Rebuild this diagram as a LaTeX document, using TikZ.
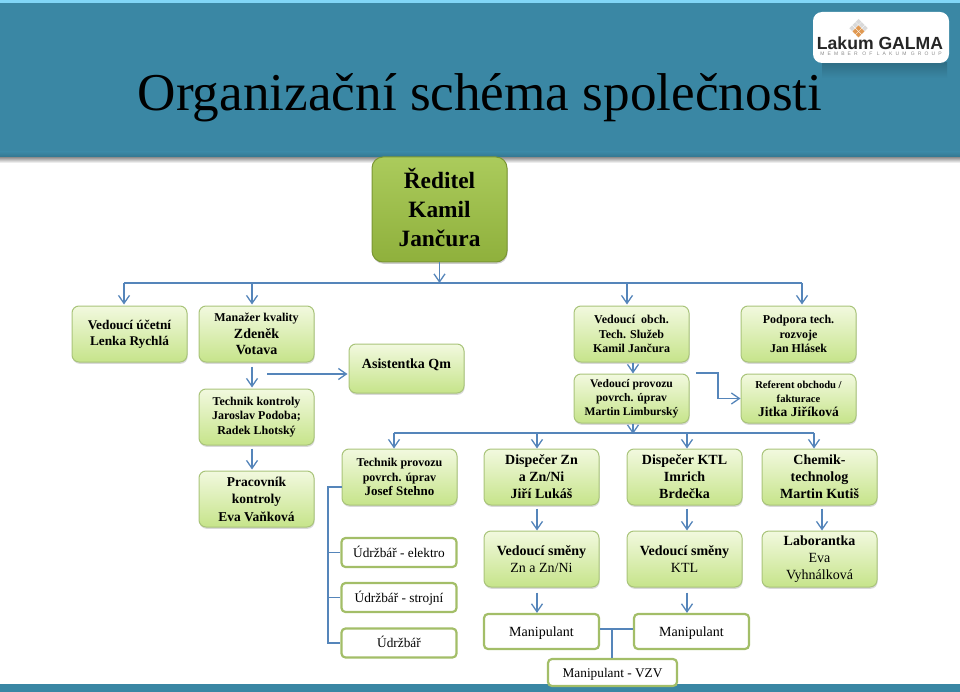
\documentclass[tikz,border=0pt]{standalone}
\usepackage{fontspec}
\setmainfont{Liberation Serif}
\newfontfamily\logofont{Liberation Sans}
\newfontfamily\logosubfont[LetterSpace=62]{Liberation Sans}
\usetikzlibrary{arrows.meta, shadows}
\definecolor{headblue}{HTML}{3A87A4}
\definecolor{linkblue}{HTML}{5585BA}
\definecolor{boxedge}{HTML}{A9C47A}
\definecolor{plainedge}{HTML}{A3BE68}
\definecolor{boxtop}{HTML}{F2F9DF}
\definecolor{boxbottom}{HTML}{C6E48A}
\definecolor{bosstop}{HTML}{ABCB5C}
\definecolor{bossbottom}{HTML}{8FB03C}
\tikzset{
  link/.style={
    linkblue,
    line width=1.3pt
  },
  arrowlink/.style={
    link,
    -{Straight Barb[length=8pt,width=11pt]}
  },
  greenbox/.style={
    draw=boxedge,
    line width=1pt,
    rounded corners=7pt,
    top color=boxtop,
    bottom color=boxbottom,
    drop shadow={shadow xshift=0.6pt,shadow yshift=-1.8pt,opacity=0.3},
    align=center,
    inner sep=0pt,
    minimum width=115pt,
    minimum height=56pt
  },
  plainbox/.style={
    draw=plainedge,
    line width=2.2pt,
    rounded corners=4pt,
    fill=white,
    align=center,
    inner sep=0pt,
    minimum width=115pt,
    minimum height=29pt,
    text height=9pt,
    text depth=0pt,
    font=\fontsize{13.3}{15}\selectfont
  },
  tiny text/.style={font=\bfseries\fontsize{10.6}{14}\selectfont},
  small text/.style={font=\bfseries\fontsize{11.6}{14}\selectfont},
  mid text/.style={font=\bfseries\fontsize{12}{14.5}\selectfont},
  name text/.style={font=\bfseries\fontsize{13.3}{16}\selectfont},
  big text/.style={font=\bfseries\fontsize{14}{17}\selectfont}
}
\newcommand{\bigname}{\fontsize{14}{17}\selectfont}
\begin{document}
\begin{tikzpicture}[x=1pt, y=-1pt]
    \useasboundingbox (0, 0) rectangle (960, 692);

    % hlavicka
    \fill[headblue] (0, 0) rectangle (960, 157);
    \fill[top color=black!45, bottom color=white] (0, 157) rectangle (960, 163);
    \fill[bottom color=black!12!headblue, top color=headblue] (0, 152) rectangle (960, 157);
    \fill[cyan!50!white] (0, 0) rectangle (960, 3);
    \fill[headblue] (0, 684) rectangle (960, 692);
    \node[font=\fontsize{53.2}{60}\selectfont] (title) at (480, 97.5) {Organizační schéma společnosti};

    % logo
    \fill[top color=black!18!headblue, bottom color=headblue] (822, 63) rectangle (947, 78);
    \node[fill=white, rounded corners=9pt, minimum width=136pt, minimum height=51pt, inner sep=0pt] (logo) at (881, 37.5) {};
    \node[font=\logofont\bfseries\fontsize{17.6}{18}\selectfont, text=black!85, inner sep=0pt] (logoname) at (880, 43.5) {Lakum GALMA};
    \node[font=\logosubfont\fontsize{5}{5}\selectfont, text=black!45, inner sep=0pt] (logosub) at (881, 54) {MEMBER OF LAKUM GROUP};
    % koso ctverecky v logu
    \foreach \ii/\jj/\tone in {0/0/black!15, 1/0/black!15, 2/0/black!15, 0/1/black!15, 0/2/black!15, 1/1/brown!60!orange!80, 2/1/brown!60!orange!80, 1/2/brown!60!orange!80, 2/2/brown!60!orange!80} {
      \fill[\tone] (858.5 + 3.2*\ii - 3.2*\jj, 19 + 3.2*\ii + 3.2*\jj) -- ++(2.8, 2.8) -- ++(-2.8, 2.8) -- ++(-2.8, -2.8) -- cycle;
    }

    % reditel
    \node[draw=bossbottom!85!black, line width=1pt, rounded corners=11pt,
          top color=bosstop, bottom color=bossbottom,
          drop shadow={shadow xshift=0.6pt,shadow yshift=-1.8pt,opacity=0.4},
          minimum width=135pt, minimum height=105pt, align=center, inner sep=0pt,
          font=\bfseries\fontsize{23.4}{29}\selectfont] (boss) at (439.5, 209.5) {Ředitel\\Kamil\\Jančura\rule[-4pt]{0pt}{4pt}};

    % prvni rada
    \node[greenbox, name text] (ucetni) at (129.5, 334) {Vedoucí účetní\\Lenka Rychlá};
    \node[greenbox, font=\bfseries\fontsize{12}{16.5}\selectfont] (kvalita) at (256.5, 334) {Manažer kvality\\\bigname Zdeněk\\\bigname Votava};
    \node[greenbox, minimum height=49pt, font=\bfseries\fontsize{14}{17}\selectfont] (asist) at (406.5, 368.5) {\raisebox{10pt}{Asistentka Qm}};
    \node[greenbox, mid text] (obch) at (631.5, 334) {Vedoucí\ \ obch.\\Tech. Služeb\\Kamil Jančura};
    \node[greenbox, mid text] (podpora) at (798.5, 334) {Podpora tech.\\rozvoje\\Jan Hlásek};

    % druha rada
    \node[greenbox, mid text] (kontrola) at (256.5, 417) {Technik kontroly\\Jaroslav Podoba;\\Radek Lhotský};
    \node[greenbox, minimum height=49pt, small text] (provoz) at (631.5, 398.5) {Vedoucí provozu\\povrch. úprav\\Martin Limburský};
    \node[greenbox, minimum height=49pt, tiny text] (referent) at (798.5, 398.5) {Referent obchodu /\\fakturace\\\fontsize{13.5}{16}\selectfont Jitka Jiříková};

    % treti rada
    \node[greenbox, font=\bfseries\fontsize{13.5}{17.5}\selectfont] (pracovnik) at (256.5, 499) {Pracovník\\kontroly\\Eva Vaňková};
    \node[greenbox, mid text] (stehno) at (399.5, 477) {Technik provozu\\povrch. úprav\\\fontsize{13}{15}\selectfont Josef Stehno};
    \node[greenbox, big text] (zn) at (541.5, 477) {Dispečer Zn\\a Zn/Ni\\Jiří Lukáš};
    \node[greenbox, big text] (ktl) at (684.5, 477) {Dispečer KTL\\Imrich\\Brdečka};
    \node[greenbox, big text] (chemik) at (819.5, 477) {Chemik-\\technolog\\Martin Kutiš};

    % smeny
    \node[greenbox, big text] (smenazn) at (541.5, 559) {Vedoucí směny\\\mdseries Zn a Zn/Ni};
    \node[greenbox, big text] (smenaktl) at (684.5, 559) {Vedoucí směny\\\mdseries KTL};
    \node[greenbox, big text] (lab) at (819.5, 559) {Laborantka\\\mdseries Eva\\\mdseries Vyhnálková};

    % bile ramecky
    \node[plainbox] (elektro) at (399, 552.5) {Údržbář - elektro};
    \node[plainbox] (strojni) at (399, 597.5) {Údržbář - strojní};
    \node[plainbox] (udrzbar) at (399, 643) {Údržbář};
    \node[plainbox, minimum height=35pt, font=\fontsize{14}{17}\selectfont] (manzn) at (541.5, 631.5) {Manipulant};
    \node[plainbox, minimum height=35pt, font=\fontsize{14}{17}\selectfont] (manktl) at (691.5, 631.5) {Manipulant};
    \node[plainbox, minimum width=129pt, minimum height=27pt, font=\fontsize{13.3}{17}\selectfont] (vzv) at (612.5, 672.5) {Manipulant - VZV};

    % sbernice nahore
    \coordinate (busboss) at (boss.south |- 0, 283);
    \coordinate (busl) at (124, 283);
    \coordinate (busr) at (802, 283);
    \draw[arrowlink] (boss.south) -- (busboss);
    \draw[link] (busl) -- (busr);
    \draw[arrowlink, shorten >=1pt] (busl) -- (busl |- ucetni.north);
    \draw[arrowlink, shorten >=1pt] (252, 283) -- (252, 0 |- kvalita.north);
    \draw[arrowlink, shorten >=1pt] (627, 283) -- (627, 0 |- obch.north);
    \draw[arrowlink, shorten >=1pt] (busr) -- (busr |- podpora.north);

    % kvalita
    \draw[arrowlink, shorten <=4pt, shorten >=1pt] (252, 0 |- kvalita.south) -- (252, 0 |- kontrola.north);
    \draw[arrowlink, shorten <=3pt, shorten >=1pt] (252, 0 |- kontrola.south) -- (252, 0 |- pracovnik.north);
    \draw[arrowlink, shorten >=1pt] (267, 374) -- (asist.west |- 0, 374);

    % obchod a provoz
    \draw[arrowlink] (633, 0 |- obch.south) -- (633, 0 |- provoz.north);
    \coordinate (elbow) at (696, 373);
    \draw[arrowlink] (elbow) -- (718, 373) -- (718, 398.5) -- (referent.west);

    % sbernice dole
    \coordinate (busdl) at (394, 433);
    \coordinate (busdr) at (814, 433);
    \draw[arrowlink] (633, 0 |- provoz.south) -- (633, 434);
    \draw[link] (busdl) -- (busdr);
    \draw[arrowlink] (busdl) -- (busdl |- stehno.north);
    \draw[arrowlink] (537, 433) -- (537, 0 |- zn.north);
    \draw[arrowlink] (687, 433) -- (687, 0 |- ktl.north);
    \draw[arrowlink] (busdr) -- (busdr |- chemik.north);

    % dispeceri
    \draw[arrowlink, shorten <=3pt] (537, 0 |- zn.south) -- (537, 0 |- smenazn.north);
    \draw[arrowlink, shorten <=3pt] (687, 0 |- ktl.south) -- (687, 0 |- smenaktl.north);
    \draw[arrowlink, shorten <=3pt] (822, 0 |- chemik.south) -- (822, 0 |- lab.north);
    \draw[arrowlink, shorten <=5pt] (537, 0 |- smenazn.south) -- (537, 0 |- manzn.north);
    \draw[arrowlink, shorten <=5pt] (687, 0 |- smenaktl.south) -- (687, 0 |- manktl.north);

    % udrzba
    \coordinate (rail) at (328, 487);
    \draw[link] (stehno.west |- rail) -- (rail) -- (rail |- udrzbar.west) -- (udrzbar.west);
    \draw[link] (rail |- elektro.west) -- (elektro.west);
    \draw[link] (rail |- strojni.west) -- (strojni.west);

    % manipulanti
    \coordinate (manjoin) at (612, 629);
    \draw[link] (manzn.east |- manjoin) -- (manktl.west |- manjoin);
    \draw[link] (manjoin) -- (manjoin |- vzv.north);

\end{tikzpicture}
\end{document}
